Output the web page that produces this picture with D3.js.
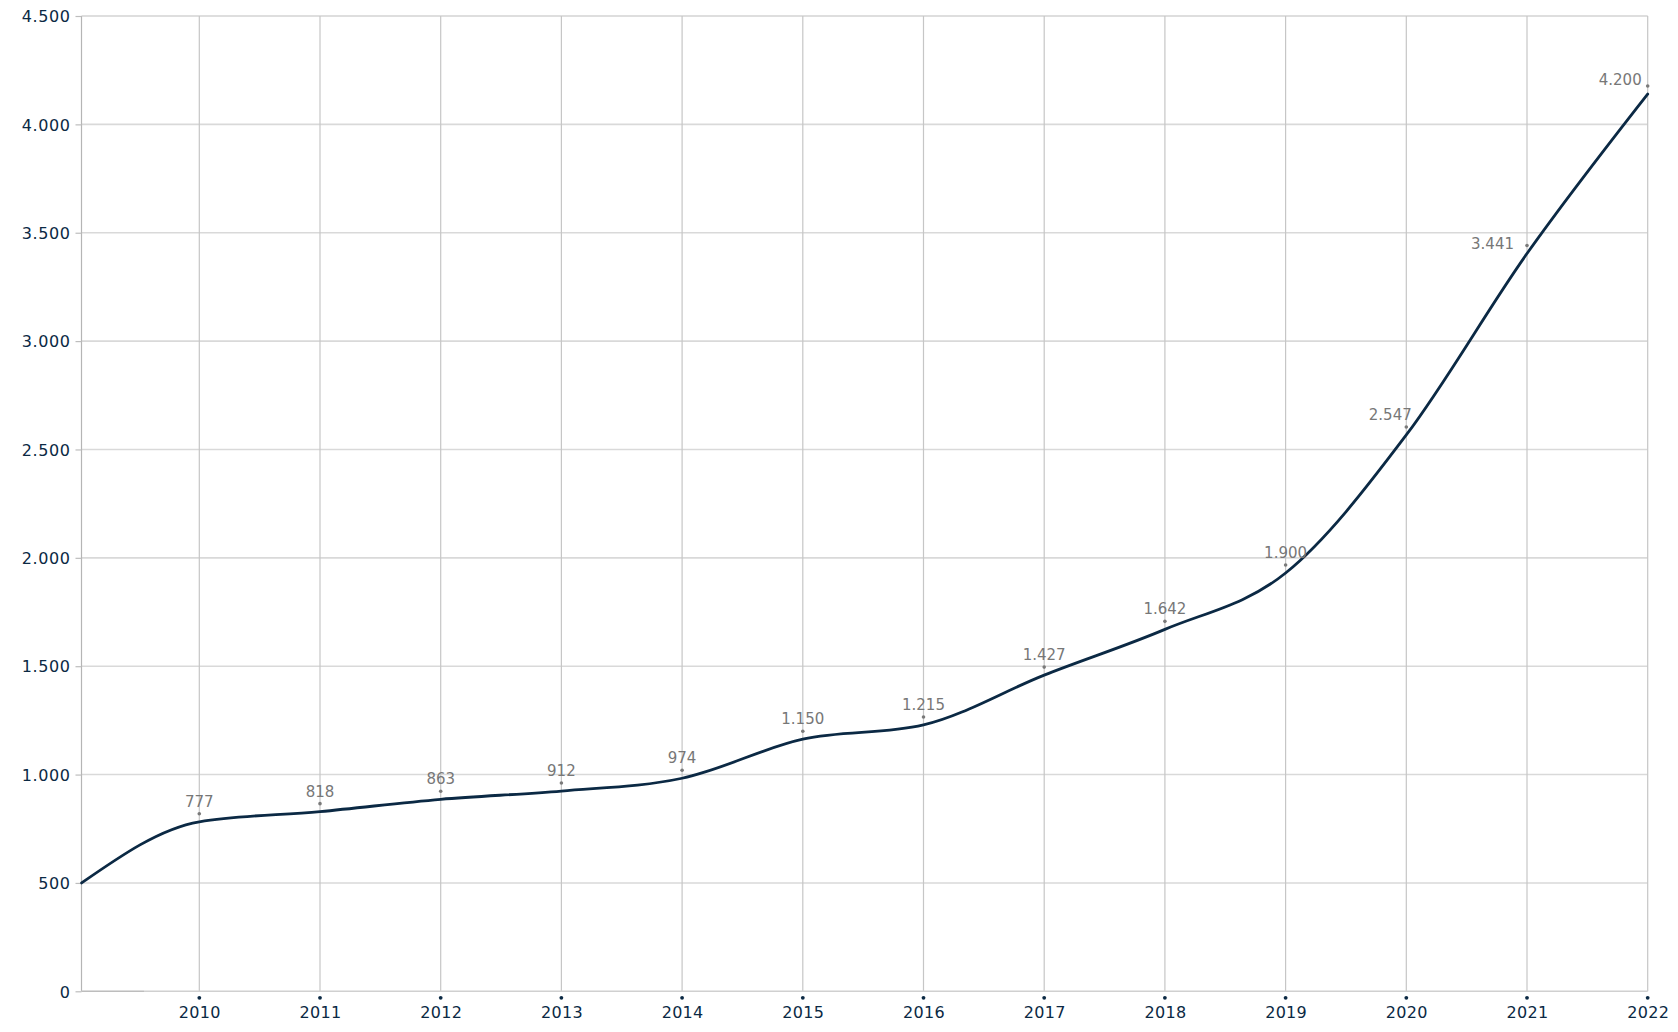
<!DOCTYPE html>
<html>
<head>
<meta charset="utf-8">
<script src="https://cdn.jsdelivr.net/npm/d3@7/dist/d3.min.js"></script>
<style>
  html, body { margin: 0; padding: 0; background: #ffffff; }
  svg { display: block; }
  text { font-family: "DejaVu Sans", sans-serif; }
</style>
</head>
<body>
<svg id="chart" width="1678" height="1032"></svg>
<script>
// ---- data ----
const years = [2010, 2011, 2012, 2013, 2014, 2015, 2016, 2017, 2018, 2019, 2020, 2021, 2022];
const labelValues = [777, 818, 863, 912, 974, 1150, 1215, 1427, 1642, 1900, 2547, 3441, 4200];
// positions of the drawn (smoothed) curve at each year
const lineValues = [782, 829, 886, 924, 983, 1163, 1229, 1459, 1670, 1930, 2567, 3404, 4140];
const startPoint = { year: 2009.025, value: 500 };
const yTicks = [0, 500, 1000, 1500, 2000, 2500, 3000, 3500, 4000, 4500];

// ---- layout ----
const svg = d3.select("#chart");
const plotLeft = 81.5, plotRight = 1647.7, plotTop = 16, plotBottom = 991.3;

const x = d3.scaleLinear().domain([2010, 2022]).range([199.3, 1647.7]);
const y = d3.scaleLinear().domain([0, 4500]).range([plotBottom, plotTop]);

const loc = d3.formatLocale({ decimal: ",", thousands: ".", grouping: [3], currency: ["", "€"] });
const fmt = loc.format(",d");

const navy = "#0b2944";

// horizontal gridlines
svg.append("g").selectAll("line").data(yTicks.filter(d => d > 0)).join("line")
  .attr("x1", plotLeft).attr("x2", plotRight)
  .attr("y1", d => y(d)).attr("y2", d => y(d))
  .attr("stroke", d => d === 4500 ? "#bdbdbd" : "#d9d9d9")
  .attr("stroke-width", d => d === 4500 ? 1 : 1.6);

// vertical gridlines
svg.append("g").selectAll("line").data(years).join("line")
  .attr("x1", d => x(d)).attr("x2", d => x(d))
  .attr("y1", plotTop).attr("y2", plotBottom)
  .attr("stroke", "#c6c6c6").attr("stroke-width", 1.2);

// left axis line
svg.append("line").attr("x1", plotLeft).attr("x2", plotLeft).attr("y1", plotTop).attr("y2", plotBottom)
  .attr("stroke", "#b5b5b5").attr("stroke-width", 1.2);

// bottom axis line
svg.append("line").attr("x1", plotLeft).attr("x2", plotRight).attr("y1", plotBottom).attr("y2", plotBottom)
  .attr("stroke", "#d0d0d0").attr("stroke-width", 1.6);
svg.append("line").attr("x1", plotLeft).attr("x2", 144).attr("y1", plotBottom).attr("y2", plotBottom)
  .attr("stroke", "#bdbdbd").attr("stroke-width", 1.2);

// y axis with D3
const yAxis = d3.axisLeft(y).tickValues(yTicks).tickFormat(fmt).tickSize(6).tickPadding(5);
const gy = svg.append("g").attr("transform", `translate(${plotLeft},0)`).call(yAxis);
gy.select(".domain").remove();
gy.selectAll(".tick line").attr("stroke", "#bdbdbd").attr("stroke-width", 1.2);
gy.selectAll(".tick text")
  .attr("fill", navy).attr("font-size", 16).attr("letter-spacing", "0.6px")
  .attr("font-family", "DejaVu Sans, sans-serif").attr("dy", "0.36em");

// x axis with D3 (labels), plus small dot markers
const xAxis = d3.axisBottom(x).tickValues(years).tickFormat(d3.format("d")).tickSize(0).tickPadding(15);
const gx = svg.append("g").attr("transform", `translate(0,${plotBottom})`).call(xAxis);
gx.select(".domain").remove();
gx.selectAll(".tick text")
  .attr("fill", navy).attr("font-size", 16).attr("letter-spacing", "0.3px")
  .attr("font-family", "DejaVu Sans, sans-serif");
svg.append("g").selectAll("circle").data(years).join("circle")
  .attr("cx", d => x(d)).attr("cy", plotBottom + 6.5).attr("r", 1.9).attr("fill", navy);

// the line
const pts = [{ year: startPoint.year, value: startPoint.value }]
  .concat(years.map((yr, i) => ({ year: yr, value: lineValues[i] })));
const line = d3.line().x(d => x(d.year)).y(d => y(d.value)).curve(d3.curveMonotoneX);
svg.append("path").datum(pts).attr("d", line)
  .attr("fill", "none").attr("stroke", navy).attr("stroke-width", 2.8)
  .attr("stroke-linejoin", "round").attr("stroke-linecap", "round");

// bullets (drawn slightly above the curve) and value labels
const dotOffset = 8;
const pointData = years.map((yr, i) => ({ year: yr, value: lineValues[i], label: labelValues[i], i }));
svg.append("g").selectAll("circle").data(pointData).join("circle")
  .attr("cx", d => x(d.year)).attr("cy", d => y(d.value) - dotOffset)
  .attr("r", 1.8).attr("fill", "#7a7a7a");

function labelPlacement(d) {
  const n = years.length;
  if (d.i === n - 1) return { dx: -6, dy: -1.5, anchor: "end" };
  if (d.i === n - 2) return { dx: -13, dy: 3.5, anchor: "end" };
  if (d.i === n - 3) return { dx: -16, dy: -7, anchor: "middle" };
  return { dx: 0, dy: -7, anchor: "middle" };
}
svg.append("g").selectAll("text").data(pointData).join("text")
  .attr("x", d => x(d.year) + labelPlacement(d).dx)
  .attr("y", d => y(d.value) - dotOffset + labelPlacement(d).dy)
  .attr("text-anchor", d => labelPlacement(d).anchor)
  .attr("fill", "#777777").attr("font-size", 15)
  .text(d => fmt(d.label));
</script>
</body>
</html>
